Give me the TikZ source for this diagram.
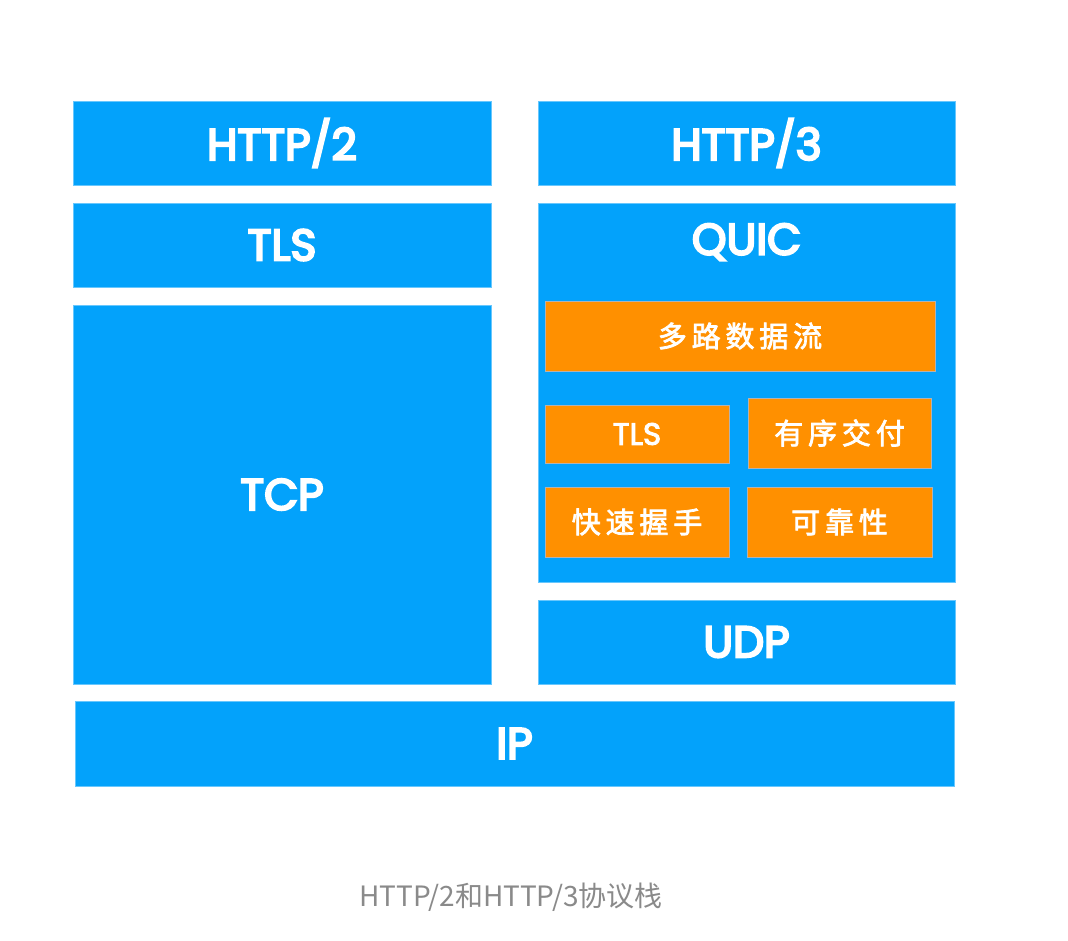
\documentclass[tikz,border=0pt]{standalone}
\usepackage{fontspec}
\setmainfont{Poppins}[FakeBold=5]
\newfontfamily\latlight{Poppins}[FakeBold=3]
\newfontfamily\cjk{Noto Sans CJK SC}[FakeBold=2.5]
\newfontfamily\cjkcap{Noto Sans CJK SC}
\definecolor{bluebox}{HTML}{03A2FB}
\definecolor{orangebox}{HTML}{FF9000}
\definecolor{captiongray}{HTML}{8A8A8A}
\tikzset{
  layer/.style={fill=bluebox, draw=bluebox!60!white, line width=0.6pt, inner sep=0pt, text=white, font=\fontsize{44}{48}\selectfont},
  feature/.style={fill=orangebox, draw=gray!60, line width=0.6pt, inner sep=0pt, text=white},
  feattext/.style={font=\cjk\fontsize{29}{32}\selectfont},
  featlat/.style={font=\latlight\fontsize{31}{34}\selectfont},
}
\begin{document}
\begin{tikzpicture}[x=1pt,y=-1pt]
\useasboundingbox[fill=white] (0,0) rectangle (1068,940);
% left stack
\node[layer, minimum width=418pt, minimum height=84pt] (h2) at (282,143) {\raisebox{-3pt}{HTTP/2}};
\node[layer, minimum width=418pt, minimum height=84pt] (tlsl) at (282,245) {\raisebox{-3pt}{TLS}};
\node[layer, minimum width=418pt, minimum height=379pt] (tcp) at (282,494.5) {\raisebox{-3pt}{TCP}};
% right stack
\node[layer, minimum width=417pt, minimum height=84pt] (h3) at (746.5,143) {\raisebox{-3pt}{HTTP/3}};
\node[layer, minimum width=417pt, minimum height=379pt] (quic) at (746.5,392.5) {};
\node[text=white, font=\fontsize{44}{48}\selectfont] (quiclabel) at (746.5,242) {QUIC};
\node[feature, minimum width=390pt, minimum height=70pt, feattext] (mux) at (740,336) {多\,路\,数\,据\,流};
\node[feature, minimum width=184pt, minimum height=58pt, featlat] (tlsq) at (637,434) {TLS};
\node[feature, minimum width=183pt, minimum height=70pt, feattext] (order) at (839.5,433) {有\,序\,交\,付};
\node[feature, minimum width=184pt, minimum height=70pt, feattext] (hs) at (637,522) {快\,速\,握\,手};
\node[feature, minimum width=185pt, minimum height=70pt, feattext] (rel) at (839.5,522) {可\,靠\,性};
\node[layer, minimum width=417pt, minimum height=84pt] (udp) at (746.5,642) {\raisebox{-3pt}{UDP}};
% bottom
\node[layer, minimum width=879pt, minimum height=85pt] (ip) at (514.5,743.5) {\raisebox{-3pt}{IP}};
% caption
\node[text=captiongray, font=\cjkcap\fontsize{28}{32}\selectfont] (cap) at (511,897) {HTTP/2和HTTP/3协议栈};
\end{tikzpicture}
\end{document}
